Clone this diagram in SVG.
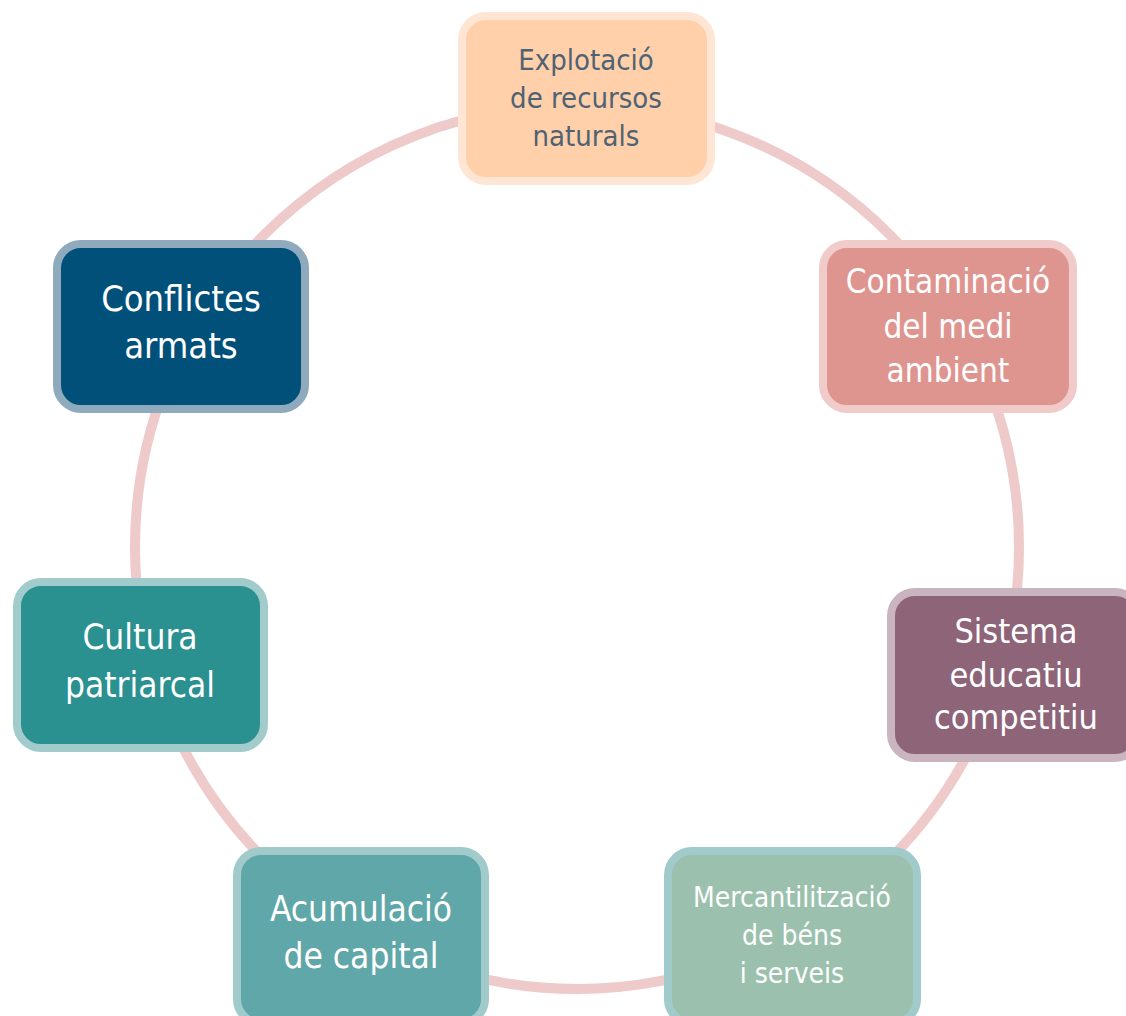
<svg xmlns="http://www.w3.org/2000/svg" width="1126" height="1016" viewBox="0 0 1126 1016">
<style>
.box{stroke-width:8}
.t{font-family:"DejaVu Sans Condensed","DejaVu Sans",sans-serif;font-stretch:condensed;text-anchor:middle;fill:#ffffff}
</style>
<rect width="1126" height="1016" fill="#ffffff"/>
<g id="connectors">
<circle cx="577" cy="547" r="442" fill="none" stroke="#EFCACA" stroke-width="10"/>
</g>
<g id="explotacio">
<rect class="box" x="462" y="16" width="249" height="165" rx="24" fill="#FFD0AA" stroke="#FFE5D3"/>
<text class="t" style="fill:#4F6273" font-size="29"><tspan x="586" y="70">Explotació</tspan><tspan x="586" y="108">de recursos</tspan><tspan x="586" y="146">naturals</tspan></text>
</g>
<g id="conflictes">
<rect class="box" x="57" y="244" width="248" height="165" rx="24" fill="#00507A" stroke="#8FAABC"/>
<text class="t" font-size="36"><tspan x="181" y="311">Conflictes</tspan><tspan x="181" y="358">armats</tspan></text>
</g>
<g id="contaminacio">
<rect class="box" x="823" y="244" width="250" height="165" rx="24" fill="#DF958F" stroke="#F0CBCA"/>
<text class="t" font-size="33"><tspan x="948" y="293">Contaminació</tspan><tspan x="948" y="338">del medi</tspan><tspan x="948" y="382">ambient</tspan></text>
</g>
<g id="sistema">
<rect class="box" x="891" y="592" width="248" height="166" rx="24" fill="#8E6479" stroke="#C9B4BF"/>
<text class="t" font-size="34"><tspan x="1016" y="643">Sistema</tspan><tspan x="1016" y="687">educatiu</tspan><tspan x="1016" y="729">competitiu</tspan></text>
</g>
<g id="cultura">
<rect class="box" x="17" y="582" width="247" height="166" rx="24" fill="#2A9090" stroke="#A2CBCB"/>
<text class="t" font-size="35"><tspan x="140" y="649">Cultura</tspan><tspan x="140" y="697">patriarcal</tspan></text>
</g>
<g id="acumulacio">
<rect class="box" x="237" y="851" width="248" height="172" rx="24" fill="#5FA7A8" stroke="#A1CACA"/>
<text class="t" font-size="35"><tspan x="361" y="921">Acumulació</tspan><tspan x="361" y="968">de capital</tspan></text>
</g>
<g id="mercantilitzacio">
<rect class="box" x="668" y="851" width="249" height="172" rx="24" fill="#9BC1AE" stroke="#A1CACA"/>
<text class="t" font-size="28"><tspan x="792" y="907">Mercantilització</tspan><tspan x="792" y="945">de béns</tspan><tspan x="792" y="983">i serveis</tspan></text>
</g>
</svg>
